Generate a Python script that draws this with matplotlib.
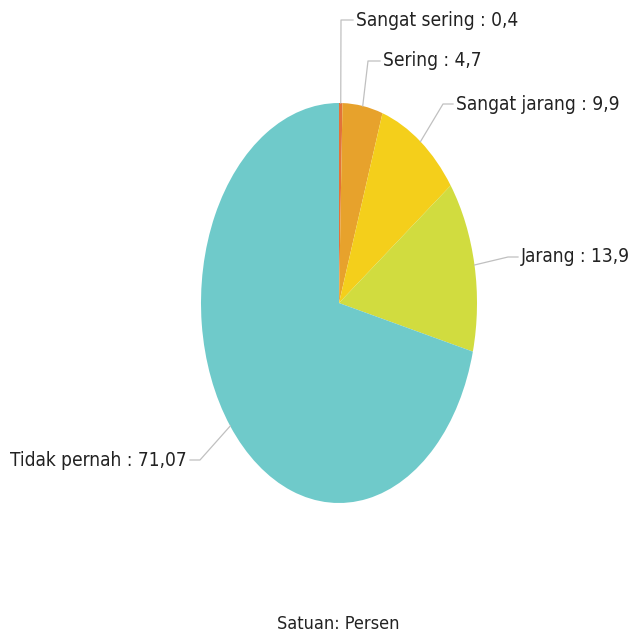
import numpy as np
import matplotlib
matplotlib.use("Agg")
import matplotlib.pyplot as plt
from matplotlib.lines import Line2D

categories = ["Sangat sering", "Sering", "Sangat jarang", "Jarang", "Tidak pernah"]
values = [0.4, 4.7, 9.9, 13.9, 71.07]
value_labels = ["0,4", "4,7", "9,9", "13,9", "71,07"]
colors = ["#e2733a", "#e7a22c", "#f4cf1b", "#d1dc3f", "#6fcaca"]

W, H = 635, 637
fig = plt.figure(figsize=(W / 100, H / 100), dpi=100)
fig.patch.set_facecolor("white")

# pie area (elliptical, as in reference)
x0, x1, ytop, ybot = 201, 477, 103, 503
ax = fig.add_axes([x0 / W, (H - ybot) / H, (x1 - x0) / W, (ybot - ytop) / H])
wedges, _ = ax.pie(values, colors=colors, startangle=90, counterclock=False,
                   wedgeprops=dict(linewidth=0))
ax.set_aspect("auto")
ax.set_xlim(-1, 1)
ax.set_ylim(-1, 1)
ax.axis("off")

fig.canvas.draw()

# label layout: elbow point and text anchor (figure pixels, from top)
elbows = [(341, 20), (368, 61), (443, 104), (508, 257), (200, 460)]
text_pos = [(356, 20), (383, 61), (456, 104), (521, 257), (187, 460)]
has = ["left", "left", "left", "left", "right"]

total = sum(values)
cum = 0
for i, (cat, v) in enumerate(zip(categories, values)):
    mid = (cum + v / 2) / total
    cum += v
    ang = np.deg2rad(90 - mid * 360)
    px, py = ax.transData.transform((np.cos(ang), np.sin(ang)))
    ex, ey = elbows[i]
    tx, ty = text_pos[i]
    ey_pix = H - ey
    endx = tx - 3 if has[i] == "left" else tx + 3
    line = Line2D([px, ex, endx], [py, ey_pix, ey_pix], transform=None,
                  color="#c0c0c0", linewidth=0.9)
    fig.add_artist(line)
    fig.text(tx / W, (H - ty) / H, f"{cat} : {value_labels[i]}", ha=has[i], va="center",
             fontsize=13.7, fontstretch="condensed", color="#222222",
             family="DejaVu Sans")

fig.text(338 / W, (H - 624) / H, "Satuan: Persen", ha="center", va="center",
         fontsize=13, fontstretch="condensed", color="#222222", family="DejaVu Sans")

fig.savefig("out.png", dpi=100, facecolor="white")
